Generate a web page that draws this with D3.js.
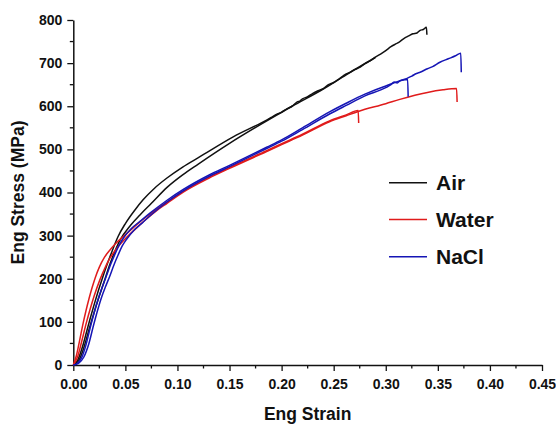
<!DOCTYPE html>
<html>
<head>
<meta charset="utf-8">
<script src="https://cdn.jsdelivr.net/npm/d3@7"></script>
<style>
  body { margin: 0; background: #fff; }
  svg { display: block; }
  text { font-family: "Liberation Sans", Arial, sans-serif; font-weight: bold; fill: #111; }
</style>
</head>
<body>
<svg id="chart" width="556" height="428"></svg>
<script>
// ---- data (strain, stress in MPa) ----
const xTicks = [0.00, 0.05, 0.10, 0.15, 0.20, 0.25, 0.30, 0.35, 0.40, 0.45];
const yTicks = [0, 100, 200, 300, 400, 500, 600, 700, 800];
const seriesNames = ["Air", "Water", "NaCl"];
const seriesColors = ["#111111", "#e01b1b", "#1515b5"];

const air1 = [[0,0],[0.004,10],[0.008,36],[0.012,70],[0.016,106],[0.02,140],[0.024,172],[0.028,202],[0.032,230],[0.036,256],[0.043,298],[0.05,328],[0.059,359],[0.067,383],[0.078,410],[0.0896,433],[0.105,459],[0.1216,483],[0.1535,529],[0.1856,568],[0.19,574],[0.195,581],[0.20,586],[0.205,594],[0.21,600],[0.215,610],[0.2175,612],[0.22,617],[0.225,622],[0.23,630],[0.235,636],[0.24,641],[0.245,650],[0.25,655],[0.255,663],[0.26,672],[0.262,675],[0.265,678],[0.27,685],[0.275,690],[0.28,699],[0.285,705],[0.29,714],[0.295,721],[0.30,729],[0.305,738],[0.31,745],[0.3135,750],[0.318,758],[0.322,763],[0.326,768],[0.33,770],[0.333,776],[0.336,778],[0.339,783],[0.3395,766]];
const air2 = [[0,0],[0.005,9],[0.009,32],[0.013,64],[0.017,98],[0.021,130],[0.025,160],[0.03,196],[0.034,226],[0.038,252],[0.045,290],[0.055,324],[0.064,348],[0.075,375],[0.09,412],[0.105,441],[0.12,466],[0.15,514],[0.18,558],[0.21,600],[0.24,640],[0.262,673],[0.29,713]];
const water1 = [[0,0],[0.003,22],[0.006,56],[0.009,92],[0.012,124],[0.015,153],[0.018,179],[0.021,202],[0.025,227],[0.03,250],[0.035,266],[0.04,280],[0.048,298],[0.056,315],[0.064,332],[0.0736,350],[0.09,378],[0.1056,403],[0.13,435],[0.15,458],[0.1856,497],[0.2,513],[0.22,535],[0.246,566],[0.262,580],[0.2735,590],[0.274,561]];
const water2 = [[0,0],[0.004,18],[0.008,54],[0.012,93],[0.016,128],[0.02,160],[0.0256,198],[0.03,223],[0.035,247],[0.04,265],[0.045,280],[0.052,298],[0.06,316],[0.07,338],[0.08,358],[0.09,375],[0.1056,401],[0.13,433],[0.15,456],[0.1856,495],[0.2,511],[0.22,533],[0.246,564],[0.262,578],[0.2735,588],[0.30,606],[0.3135,616],[0.34,632],[0.355,638],[0.368,641],[0.3685,610]];
const nacl1 = [[0,0],[0.004,4],[0.008,17],[0.012,45],[0.016,84],[0.02,121],[0.024,154],[0.028,182],[0.032,208],[0.036,234],[0.04,257],[0.044,278],[0.048,294],[0.056,317],[0.064,333],[0.0736,352],[0.09,382],[0.1056,407],[0.13,440],[0.15,463],[0.1856,505],[0.2,522],[0.22,550],[0.246,587],[0.262,607],[0.28,628],[0.30,647],[0.321,662],[0.3215,622]];
const nacl2 = [[0,0],[0.005,4],[0.01,18],[0.015,50],[0.019,88],[0.023,124],[0.027,156],[0.031,182],[0.035,206],[0.039,232],[0.043,255],[0.047,276],[0.051,291],[0.058,312],[0.066,329],[0.075,349],[0.09,378],[0.1056,404],[0.13,437],[0.15,460],[0.1856,502],[0.2,519],[0.22,546],[0.246,582],[0.262,602],[0.28,624],[0.30,643],[0.305,650],[0.308,656],[0.311,654],[0.3135,659],[0.32,664],[0.325,670],[0.3295,676],[0.333,679],[0.34,687],[0.345,692],[0.352,702],[0.36,710],[0.367,717],[0.372,723],[0.3725,679]];

const curves = [
  {data: air1, s: 0}, {data: air2, s: 0},
  {data: water1, s: 1}, {data: water2, s: 1},
  {data: nacl1, s: 2}, {data: nacl2, s: 2}
];

// ---- layout ----
const svg = d3.select("#chart");
const x = d3.scaleLinear().domain([0, 0.45]).range([73.3, 542]);
const y = d3.scaleLinear().domain([0, 800]).range([365, 20]);

const g = svg.append("g");

// minor ticks
const xMinor = d3.range(0.025, 0.45, 0.05);
const yMinor = d3.range(50, 800, 100);

g.selectAll(".xminor").data(xMinor).join("line")
  .attr("x1", d => x(d)).attr("x2", d => x(d))
  .attr("y1", y(0)).attr("y2", y(0) + 3.5)
  .attr("stroke", "#111").attr("stroke-width", 1.3);
g.selectAll(".yminor").data(yMinor).join("line")
  .attr("x1", x(0) - 3.5).attr("x2", x(0))
  .attr("y1", d => y(d)).attr("y2", d => y(d))
  .attr("stroke", "#111").attr("stroke-width", 1.3);

// axes
const xAxis = d3.axisBottom(x).tickValues(xTicks).tickFormat(d3.format(".2f")).tickSize(6).tickPadding(8).tickSizeOuter(0);
const yAxis = d3.axisLeft(y).tickValues(yTicks).tickFormat(d3.format("d")).tickSize(6).tickPadding(5).tickSizeOuter(0);

const gx = g.append("g").attr("transform", `translate(0,${y(0)})`).call(xAxis);
const gy = g.append("g").attr("transform", `translate(${x(0)},0)`).call(yAxis);
[gx, gy].forEach(a => {
  a.select(".domain").attr("stroke", "#111").attr("stroke-width", 1.5);
  a.selectAll(".tick line").attr("stroke", "#111").attr("stroke-width", 1.3);
  a.selectAll(".tick text").attr("font-size", 14).attr("font-weight", "bold")
    .attr("font-family", "'Liberation Sans', Arial, sans-serif").attr("fill", "#111");
});

// axis titles
g.append("text").attr("x", (x(0) + x(0.45)) / 2).attr("y", 420)
  .attr("text-anchor", "middle").attr("font-size", 17.5).text("Eng Strain");
g.append("text").attr("transform", `translate(24,${(y(0) + y(800)) / 2}) rotate(-90)`)
  .attr("text-anchor", "middle").attr("font-size", 17.5).text("Eng Stress (MPa)");

// curves
const line = d3.line().x(d => x(d[0])).y(d => y(d[1])).curve(d3.curveMonotoneX);
g.selectAll(".curve").data(curves).join("path")
  .attr("d", d => line(d.data))
  .attr("fill", "none")
  .attr("stroke", d => seriesColors[d.s])
  .attr("stroke-width", 1.5);

// legend
const legY = [182.7, 219.5, 256.7];
const leg = g.selectAll(".leg").data(seriesNames).join("g");
leg.append("line")
  .attr("x1", 389).attr("x2", 427)
  .attr("y1", (d, i) => legY[i]).attr("y2", (d, i) => legY[i])
  .attr("stroke", (d, i) => seriesColors[i]).attr("stroke-width", 1.5);
leg.append("text")
  .attr("x", 436).attr("y", (d, i) => legY[i] + 7.3)
  .attr("font-size", 21).text(d => d);
</script>
</body>
</html>
